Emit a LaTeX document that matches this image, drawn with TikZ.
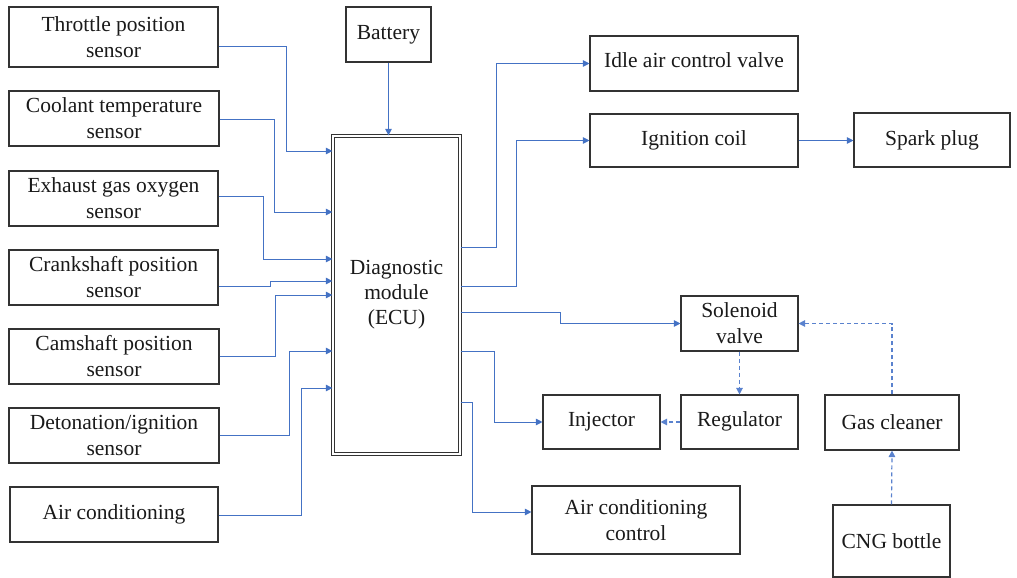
\documentclass[tikz,border=0pt]{standalone}
\usepackage{fontspec}
\setmainfont{Liberation Serif}
\usetikzlibrary{arrows.meta}
\definecolor{lineblue}{HTML}{4472C4}
\definecolor{dashblue}{HTML}{5A82CE}
\definecolor{boxgray}{HTML}{333333}
\definecolor{txt}{HTML}{1A1A1A}
\tikzset{
  box/.style={draw=boxgray, line width=1.1pt, fill=white, align=center,
    inner sep=1pt, text=txt, font=\fontsize{21.5}{26}\selectfont},
  ecubox/.style={draw=boxgray, double=white, double distance=2pt, line width=0.8pt,
    fill=white, align=center, inner sep=1pt, text=txt, font=\fontsize{21.5}{25}\selectfont},
  conn/.style={draw=lineblue, line width=1pt, -{Triangle[length=6.5pt,width=6.5pt]}},
  dconn/.style={conn, draw=dashblue, line width=1.2pt, dash pattern=on 4pt off 3pt}
}
\begin{document}
\begin{tikzpicture}[x=1pt,y=-1pt]
\useasboundingbox (0,0) rectangle (1017,578);
% left inputs
\node[box, minimum width=209pt, minimum height=60pt] (thr) at (113.5,37) {Throttle position\\sensor};
\node[box, minimum width=210pt, minimum height=55pt] (cool) at (114,118.5) {Coolant temperature\\sensor};
\node[box, minimum width=209pt, minimum height=55pt] (exh) at (113.5,198.5) {Exhaust gas oxygen\\sensor};
\node[box, minimum width=209pt, minimum height=55pt] (crank) at (113.5,277.5) {Crankshaft position\\sensor};
\node[box, minimum width=210pt, minimum height=55pt] (cam) at (114,356.5) {Camshaft position\\sensor};
\node[box, minimum width=210pt, minimum height=55pt] (det) at (114,435.5) {Detonation/ignition\\sensor};
\node[box, minimum width=208pt, minimum height=55pt] (ac) at (114,514.5) {\raisebox{4pt}{Air conditioning}};
\node[box, minimum width=85pt, minimum height=55pt] (bat) at (388.5,34.5) {\raisebox{4pt}{Battery}};
% ECU
\node[ecubox, minimum width=127.4pt, minimum height=318.4pt] (ecu) at (396.5,295) {Diagnostic\\module\\(ECU)};
% right outputs
\node[box, minimum width=208pt, minimum height=55pt] (idle) at (694,63.5) {\raisebox{6pt}{Idle air control valve}};
\node[box, minimum width=208pt, minimum height=53pt] (ign) at (694,140.5) {\raisebox{4pt}{Ignition coil}};
\node[box, minimum width=156pt, minimum height=54pt] (spark) at (932,140) {\raisebox{3pt}{Spark plug}};
\node[box, minimum width=117pt, minimum height=55pt] (sol) at (739.5,323.5) {Solenoid\\valve};
\node[box, minimum width=117pt, minimum height=54pt] (inj) at (601.5,422) {\raisebox{5pt}{Injector}};
\node[box, minimum width=117pt, minimum height=54pt] (reg) at (739.5,422) {\raisebox{5pt}{Regulator}};
\node[box, minimum width=134pt, minimum height=55pt] (gas) at (892,422.5) {\raisebox{1pt}{Gas cleaner}};
\node[box, minimum width=208pt, minimum height=68pt] (acc) at (636,520) {Air conditioning\\control};
\node[box, minimum width=117pt, minimum height=72pt] (cng) at (891.5,541) {\raisebox{-3pt}{CNG bottle}};
% inputs to ECU
\draw[conn] (thr.east |- 0,47) -| (286,151) -- (ecu.west |- 0,151);
\draw[conn] (cool.east |- 0,119) -| (274,212) -- (ecu.west |- 0,212);
\draw[conn] (exh.east |- 0,196) -| (263,259) -- (ecu.west |- 0,259);
\draw[conn] (crank.east |- 0,286) -| (270,281) -- (ecu.west |- 0,281);
\draw[conn] (cam.east |- 0,356) -| (275,295) -- (ecu.west |- 0,295);
\draw[conn] (det.east |- 0,435) -| (289,351) -- (ecu.west |- 0,351);
\draw[conn] (ac.east |- 0,515) -| (301,388) -- (ecu.west |- 0,388);
\draw[conn] (bat.south) -- (bat.south |- ecu.north);
% ECU outputs
\draw[conn] (ecu.east |- 0,247) -| (496,63.5) -- (idle.west);
\draw[conn] (ecu.east |- 0,286) -| (516,140.5) -- (ign.west);
\draw[conn] (ign.east) -- (spark.west |- ign.east);
\draw[conn] (ecu.east |- 0,312) -| (560,323.5) -- (sol.west);
\draw[conn] (ecu.east |- 0,351) -| (494,422) -- (inj.west);
\draw[conn] (ecu.east |- 0,402) -| (472,512) -- (acc.west |- 0,512);
% gas path
\draw[dconn] (sol.south) -- (reg.north);
\draw[dconn] (reg.west) -- (inj.east);
\draw[dconn] (gas.north) |- (sol.east);
\draw[dconn] (cng.north) -- (gas.south);
\end{tikzpicture}
\end{document}
